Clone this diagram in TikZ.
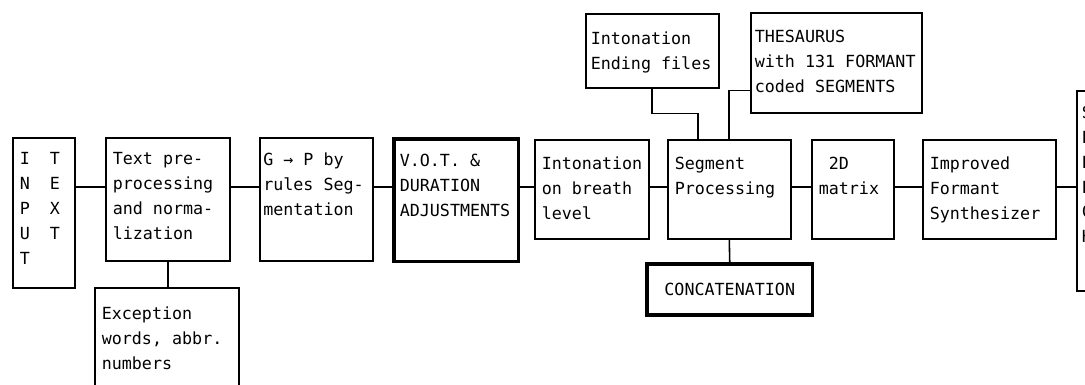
\documentclass[tikz,border=0pt]{standalone}
\usepackage{fontspec}
\setmainfont{DejaVu Sans Mono}
\usetikzlibrary{calc}
\tikzset{
  blk/.style args={#1/#2}{
    rectangle, draw, line width=0.9pt, anchor=north west,
    inner xsep=0.14cm, inner ysep=0.3cm,
    font=\fontsize{9.5}{14.2}\selectfont,
    execute at begin node={\begin{minipage}[c][\dimexpr#2-\pgfkeysvalueof{/pgf/inner ysep}*2\relax][t]{\dimexpr#1-\pgfkeysvalueof{/pgf/inner xsep}*2\relax}\raggedright},
    execute at end node={\end{minipage}},
  },
  thk/.style={line width=2pt},
  cbox/.style={
    rectangle, draw, anchor=north west, align=center,
    font=\fontsize{9.5}{14.2}\selectfont,
  },
  wire/.style={line width=0.9pt},
}
\newcommand{\twocol}[2]{\makebox[0.6cm][l]{#1}#2}

\begin{document}
\begin{tikzpicture}[x=0.02cm,y=-0.02cm]
  \useasboundingbox (0,0) rectangle (1085,385);
  \coordinate (lev) at (0,187);

  % main chain
  \node[blk=1.24cm/3.0cm] (inp) at (12,137)
    {\twocol{I}{T}\\\twocol{N}{E}\\\twocol{P}{X}\\\twocol{U}{T}\\T};
  \node[blk=2.48cm/2.46cm] (tpp) at (105,137)
    {Text pre-\\processing\\and norma-\\lization};
  \node[blk=2.26cm/2.46cm, inner xsep=0.07cm] (gp) at (259,137)
    {G → P by\\rules~Seg-\\mentation};
  \node[blk=2.5cm/2.46cm, thk, inner xsep=0.12cm] (vot) at (392,137)
    {V.O.T. \&\\DURATION\\ADJUSTMENTS};
  \node[blk=2.28cm/1.98cm, inner ysep=0.34cm] (ibl) at (534,139)
    {Intonation\\on breath\\level};
  \node[blk=2.46cm/1.98cm, inner ysep=0.34cm] (seg) at (667,139)
    {Segment\\Processing};
  \node[blk=1.64cm/1.98cm, inner ysep=0.34cm] (mat) at (811,139)
    {\hspace*{0.6em}2D\\matrix};
  \node[blk=2.66cm/1.98cm, inner ysep=0.34cm] (ifs) at (922,139)
    {Improved\\Formant\\Synthesizer};
  \node[blk=1.2cm/4.0cm, inner xsep=0.1cm] (spc) at (1076,90)
    {S\\P\\E\\E\\C\\H};

  % side boxes
  \node[blk=2.88cm/2.4cm, inner ysep=0.38cm] (exc) at (94,287)
    {Exception\\words, abbr.\\numbers};
  \node[blk=2.66cm/1.48cm, inner ysep=0.36cm, inner xsep=0.1cm] (ief) at (585,13)
    {Intonation\\Ending files};
  \node[blk=3.42cm/2.0cm, inner ysep=0.34cm, inner xsep=0.08cm] (the) at (750,12)
    {THESAURUS\\with 131 FORMANT\\coded SEGMENTS};
  \node[cbox, thk, minimum width=3.32cm, minimum height=1.02cm] (cat) at (645,262)
    {CONCATENATION};

  \foreach \a/\b in {inp/tpp, tpp/gp, gp/vot, vot/ibl, ibl/seg, seg/mat, mat/ifs, ifs/spc}{
    \draw[wire] (\a.north east |- lev) -- (\b.north west |- lev);
  }
  \draw[wire] (tpp.south) -- (exc.north -| tpp.south);
  \draw[wire] (ief.south) -- ++(0,25) -| ($(seg.north west)!0.5!(seg.north)$);
  \draw[wire] ($(the.south west)+(0,-23)$) -| (seg.north);
  \draw[wire] (seg.south) -- (cat.north);
\end{tikzpicture}
\end{document}
